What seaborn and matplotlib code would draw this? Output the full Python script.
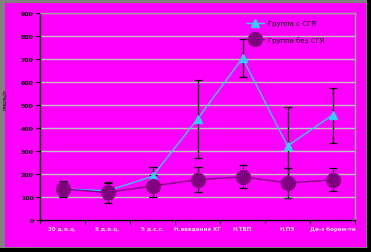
import matplotlib
matplotlib.use("Agg")
import matplotlib.pyplot as plt
import seaborn as sns
import pandas as pd
from matplotlib.patches import Rectangle
from matplotlib.lines import Line2D

categories = ["30 д.н.ц.", "5 д.н.ц.", "5 д.с.с.", "Н.введения ХГ", "Н.ТВП", "Н.ПЭ", "Ди-з берем-ти"]
series_names = ["Группа с СГЯ", "Группа без СГЯ"]
with_sgya = [135, 127, 190, 439, 704, 322, 456]
with_sgya_err = [30, 35, 42, 170, 83, 170, 120]
without_sgya = [135, 120, 148, 175, 188, 161, 174]
without_sgya_err = [35, 45, 47, 55, 49, 65, 50]
y_ticks = [0, 100, 200, 300, 400, 500, 600, 700, 800, 900]

sns.set_theme(style="white")
plt.rcParams['font.family'] = ['DejaVu Sans']

W, H = 371, 253
fig = plt.figure(figsize=(W / 100, H / 100), dpi=100, facecolor="black")
# frame: gray border, magenta chart area, black shadow
fig.patches.append(Rectangle((0, 4 / H), 367 / W, 1 - 4 / H, transform=fig.transFigure,
                             facecolor="#808080", edgecolor="none", zorder=-2))
fig.patches.append(Rectangle((5 / W, 5 / H), 361 / W, 244 / H, transform=fig.transFigure,
                             facecolor="#FF00FF", edgecolor="none", zorder=-1))

ax = fig.add_axes([40 / W, (H - 221) / H, 315 / W, 207 / H])
ax.set_facecolor("#FF00FF")

df = pd.DataFrame({
    "x": list(range(len(categories))) * 2,
    "value": with_sgya + without_sgya,
    "series": [series_names[0]] * len(categories) + [series_names[1]] * len(categories),
})

palette = {series_names[0]: "#33CCFF", series_names[1]: "#800080"}
sns.lineplot(data=df, x="x", y="value", hue="series",
             palette=palette, ax=ax, linewidth=1.0,
             legend=False, zorder=3)

xs = list(range(len(categories)))
ax.errorbar(xs, with_sgya, yerr=with_sgya_err, fmt="none", ecolor="black",
            elinewidth=0.9, capsize=2.8, capthick=0.9, zorder=4)
ax.errorbar(xs, without_sgya, yerr=without_sgya_err, fmt="none", ecolor="black",
            elinewidth=0.9, capsize=2.8, capthick=0.9, zorder=4)
ax.plot(xs, with_sgya, linestyle="none", marker="^", markersize=6,
        color="#33CCFF", zorder=5)
ax.plot(xs, without_sgya, linestyle="none", marker="o", markersize=10,
        color="#800080", zorder=6)

ax.set_xlim(-0.5, len(categories) - 0.5)
ax.set_ylim(0, 900)
ax.set_yticks(y_ticks)
ax.set_yticklabels([str(v) for v in y_ticks], fontsize=4.5, fontweight="bold", color="black")
ax.yaxis.grid(True, color="#C0C0C0", linewidth=1.0)
ax.set_axisbelow(True)

ax.set_xticks(xs)
ax.set_xticklabels(categories, fontsize=4, fontweight="bold", color="#D8D8D8")
ax.set_xticks([i - 0.5 for i in range(len(categories) + 1)], minor=True)
ax.tick_params(axis="x", which="major", length=0, pad=4)
ax.tick_params(axis="x", which="minor", length=3, width=0.8, color="black", direction="out", bottom=True)
ax.tick_params(axis="y", which="major", length=3, width=0.8, color="black", direction="out", left=True, pad=1.5)
ax.set_xlabel("")
ax.set_ylabel("пмоль/л", fontsize=3.5, color="black")
ax.yaxis.set_label_coords(-0.105, 0.585)

for side in ["left", "bottom"]:
    ax.spines[side].set_color("black")
    ax.spines[side].set_linewidth(1.0)
for side in ["top", "right"]:
    ax.spines[side].set_color("#A0A0A0")
    ax.spines[side].set_linewidth(1.0)

handles = [
    Line2D([0], [0], color="#33CCFF", marker="^", markersize=6, linewidth=1.0),
    Line2D([0], [0], color="#800080", marker="o", markersize=10, linewidth=1.0),
]
leg = ax.legend(handles, series_names, loc="upper left", bbox_to_anchor=(0.655, 0.965),
                frameon=False, fontsize=5, handlelength=2.6, labelspacing=1.4,
                handletextpad=0.5, borderaxespad=0, borderpad=0)
for t in leg.get_texts():
    t.set_color("black")

fig.savefig("out.png", dpi=100, facecolor=fig.get_facecolor())
